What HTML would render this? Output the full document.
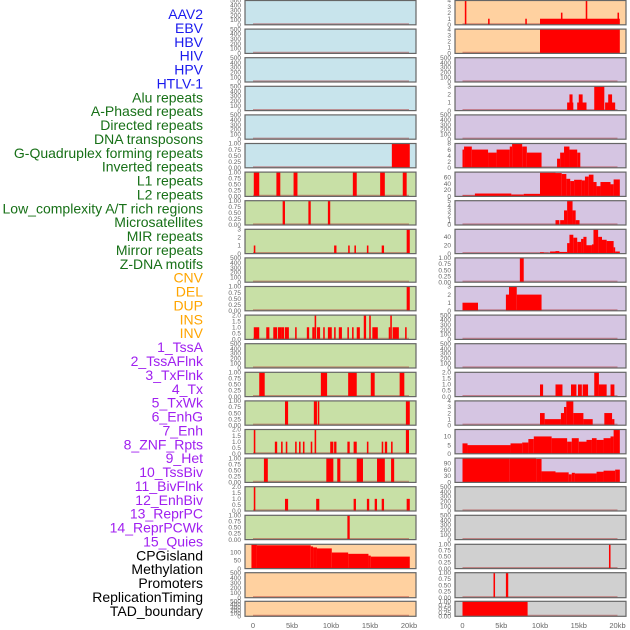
<!DOCTYPE html>
<html><head><meta charset="utf-8"><style>
html,body{margin:0;padding:0;background:#fff;}
svg{display:block;font-family:"Liberation Sans",sans-serif;}
</style></head><body>
<svg id="chart" width="630" height="630" viewBox="0 0 630 630" xmlns="http://www.w3.org/2000/svg">
<g id="labels"></g>
<g id="panels"></g>
<g id="xaxes"></g>
</svg>
<script>
const trackNames = ["AAV2","EBV","HBV","HIV","HPV","HTLV-1","Alu repeats","A-Phased repeats","Directed repeats","DNA transposons","G-Quadruplex forming repeats","Inverted repeats","L1 repeats","L2 repeats","Low_complexity A/T rich regions","Microsatellites","MIR repeats","Mirror repeats","Z-DNA motifs","CNV","DEL","DUP","INS","INV","1_TssA","2_TssAFlnk","3_TxFlnk","4_Tx","5_TxWk","6_EnhG","7_Enh","8_ZNF_Rpts","9_Het","10_TssBiv","11_BivFlnk","12_EnhBiv","13_ReprPC","14_ReprPCWk","15_Quies","CPGisland","Methylation","Promoters","ReplicationTiming","TAD_boundary"];
const trackGroups = [6,13,5,15,5];
const groupColors = ["#1a1aee","#177017","#ffa500","#a020f0","#000000"];

const xTickValues = [0,5000,10000,15000,20000];
const xTickLabels = ["0","5kb","10kb","15kb","20kb"];

const T500 = ["0","100","200","300","400","500"];
const T1 = ["0.00","0.25","0.50","0.75","1.00"];
const T2 = ["0.0","0.5","1.0","1.5","2.0"];
const T3 = ["0","1","2","3"];
const T4 = ["0","1","2","3","4"];
const T5 = ["0","1","2","3","4","5"];
const T8 = ["0","2","4","6","8"];
const T60 = ["0","20","40","60"];
const T40 = ["0","20","40"];
const T10 = ["0","5","10"];
const T90 = ["0","30","60","90"];
const T100 = ["0","50","100"];

// bars: [startKb, endKb, value]
const L06 = [[17.8,20.1,1]];
const L07 = [[0.1,0.8,1],[3.0,3.5,1],[5.2,5.7,1],[12.8,13.3,1],[16.3,16.9,1],[19.2,19.7,1]];
const L08 = [[3.8,4.1,1],[7.1,7.4,1],[9.6,9.9,1]];
const L09 = [[0.1,0.3,1],[10.4,10.7,1],[12.2,12.4,1],[13.0,13.2,1],[14.6,14.8,1],[16.5,16.8,1],[19.7,20.1,3]];
const L11 = [[19.7,20.1,1]];
const L12 = [[0.1,0.8,1],[1.7,2.1,1],[2.6,3.1,1],[3.2,3.6,1],[3.6,4.0,1],[4.1,4.6,1],[5.4,5.6,1],[6.9,7.2,1],[7.6,7.9,1],[7.9,8.1,2],[8.2,8.6,1],[9.0,9.2,1],[9.6,10.1,1],[10.4,10.6,1],[11.0,11.4,1],[12.1,12.3,1],[12.7,12.9,1],[13.3,13.7,1],[14.2,14.5,2],[14.9,15.1,2],[15.3,16.0,1],[17.4,17.6,1],[17.6,17.8,2],[17.9,18.7,1],[19.5,19.7,1]];
const L14 = [[0.8,1.5,1],[8.7,9.5,1],[12.2,13.3,1],[15.1,15.6,1],[18.8,19.4,1]];
const L15 = [[4.1,4.5,1],[7.8,8.2,1],[8.3,8.5,1],[19.6,20.1,1]];
const L16 = [[0.1,0.3,2],[2.8,3.1,1],[3.6,3.8,1],[4.2,4.4,1],[5.4,5.6,1],[5.9,6.1,1],[6.4,6.6,1],[7.4,7.6,1],[7.9,8.1,2],[9.9,10.3,1],[10.4,10.7,1],[12.1,12.4,1],[12.9,13.3,1],[14.6,14.8,1],[16.5,16.7,1],[16.9,17.2,1],[17.7,17.9,1],[19.6,20.0,2]];
const L17 = [[1.4,1.9,1],[9.4,10.3,1],[10.8,11.2,1],[13.3,14.1,1],[15.9,16.9,1],[17.7,18.1,1]];
const L18 = [[0.1,0.3,2],[4.1,4.5,1],[8.1,8.5,1],[12.9,13.2,1],[14.6,14.9,1],[15.6,15.9,1],[16.5,16.8,1],[19.7,20.1,1]];
const L19 = [[12.1,12.4,1]];
const L20 = [[-0.2,0.5,146],[0.5,7.4,142],[7.4,7.7,135],[7.7,8.2,129],[8.2,10.1,123],[10.1,12.2,98],[12.2,14.8,90],[14.8,15.1,79],[15.1,20.1,73]];

const R01 = [[0.3,0.5,4],[3.3,3.5,1],[8.1,8.3,1],[10,20.3,1],[12.7,12.9,2],[15.9,16.1,4],[20.0,20.2,2]];
const R02 = [[10,20.3,4]];
const R04 = [[13.5,14.3,1],[13.8,14.2,2],[14.8,16.0,1],[15.0,15.5,2],[17.0,18.3,3],[18.4,19.7,1],[18.8,19.3,2]];
const R06 = [[0,0.2,6],[0.2,1.2,7],[1.2,3.3,6],[3.3,4.4,5],[4.4,6.1,6],[6.1,6.4,7],[6.4,7.7,8],[7.7,8.3,7],[8.3,10.2,5],[12.2,12.6,3],[12.6,13.1,5],[13.1,13.8,7],[13.8,14.8,6],[14.8,15.2,5]];
const R07 = [[0,1.6,3],[1.6,6.3,9],[6.3,7.9,6],[7.9,10,8],[10,12,74],[12,12.8,73],[12.8,13.4,70],[13.4,13.9,55],[13.9,14.4,48],[14.4,15.4,52],[15.4,15.8,50],[15.8,16.3,62],[16.3,16.9,68],[16.9,17.3,45],[17.3,17.8,32],[17.8,19.1,45],[19.1,19.5,38],[19.5,20.3,53]];
const R08 = [[12,12.5,1],[12.6,13.1,1],[13.1,13.5,3],[13.5,14.2,5],[14.2,14.6,3],[14.6,15.1,1]];
const R09 = [[1.0,2.5,1],[3.6,4.3,1],[10.0,10.5,3],[10.5,11.1,2],[11.3,12.0,5],[12.0,12.5,6],[12.5,13.5,4],[13.5,13.8,25],[13.8,14.3,45],[14.3,14.8,38],[14.8,15.3,28],[15.3,15.6,35],[15.6,16.0,40],[16.0,16.7,20],[16.7,16.9,22],[16.9,17.5,57],[17.5,18.0,40],[18.0,18.6,33],[18.6,19.5,30],[19.5,19.7,15],[19.7,20.3,5]];
const R10 = [[7.4,7.9,1]];
const R11 = [[0,2,1],[5.6,6.0,2],[6.0,7.0,3],[7.0,10.2,2]];
const R14 = [[10,10.4,1],[12,12.9,1],[14,14.7,1],[14.9,15.4,1],[15.5,16.2,1],[17,17.6,2],[17.6,18.6,1],[19.1,19.6,1]];
const R15 = [[10,10.6,2],[10.6,12.7,1],[12.7,13.1,2],[13.1,13.4,3],[13.4,14.3,4],[14.3,15.6,2],[15.6,16.8,1],[18.3,19.3,2],[19.3,19.6,1]];
const R16 = [[0,0.65,6],[0.65,6.2,5],[6.2,7.7,6],[7.7,8.5,6.5],[8.5,9.2,8.5],[9.2,11.5,10],[11.5,13.5,9],[13.5,14.1,7],[14.1,15,9],[15,16,7],[16,16.7,8],[16.7,17.3,9],[17.3,18.2,8],[18.2,19.1,9],[19.1,19.5,10],[19.5,20.3,14]];
const R17 = [[0,6.1,114],[6.1,9.5,113],[9.5,10.2,110],[10.2,12,52],[12,13.7,47],[13.7,14.1,38],[14.1,14.5,45],[14.5,17.3,42],[17.3,18.2,50],[18.2,19.7,55],[19.7,20.3,60]];
const R20 = [[18.9,19.1,1]];
const R21 = [[4.0,4.2,1],[5.6,5.9,1]];
const R22 = [[0,8.4,1]];

const BLUE="#c8e4ec", GREEN="#c8e0a6", ORANGE="#ffd1a0", PURPLE="#d5c5e2", GRAY="#d0d0d0";
// [bars, tickLabels, tickMax, ymax, bg]
const leftCol = [
 [[],T500,500,500,BLUE],[[],T500,500,500,BLUE],[[],T500,500,500,BLUE],[[],T500,500,500,BLUE],[[],T500,500,500,BLUE],
 [L06,T1,1,1,BLUE],[L07,T1,1,1,GREEN],[L08,T1,1,1,GREEN],[L09,T3,3,3,GREEN],[[],T500,500,500,GREEN],
 [L11,T1,1,1,GREEN],[L12,T2,2,2,GREEN],[[],T500,500,500,GREEN],[L14,T1,1,1,GREEN],[L15,T1,1,1,GREEN],
 [L16,T2,2,2,GREEN],[L17,T1,1,1,GREEN],[L18,T2,2,2,GREEN],[L19,T1,1,1,GREEN],[L20,T100,100,148,ORANGE],
 [[],T500,500,500,ORANGE],[[],T500,500,500,ORANGE]];
const rightCol = [
 [R01,T4,4,4,ORANGE],[R02,T4,4,4,ORANGE],[[],T500,500,500,PURPLE],[R04,T3,3,3,PURPLE],[[],T500,500,500,PURPLE],
 [R06,T8,8,8,PURPLE],[R07,T60,60,76,PURPLE],[R08,T5,5,5,PURPLE],[R09,T40,40,58,PURPLE],[R10,T1,1,1,PURPLE],
 [R11,T3,3,3,PURPLE],[[],T500,500,500,PURPLE],[[],T500,500,500,PURPLE],[R14,T2,2,2,PURPLE],[R15,T4,4,4,PURPLE],
 [R16,T10,10,14,PURPLE],[R17,T90,90,114,PURPLE],[[],T500,500,500,GRAY],[[],T500,500,500,GRAY],[R20,T1,1,1,GRAY],
 [R21,T1,1,1,GRAY],[R22,T1,1,1,GRAY]];

const NS="http://www.w3.org/2000/svg";
function mk(tag, attrs, parent){const e=document.createElementNS(NS,tag);for(const k in attrs)e.setAttribute(k,attrs[k]);parent.appendChild(e);return e;}
function rowGeom(i){
  if(i<19) return [0.5+28.6*i, 24.3];
  if(i===19) return [544.3,24.3];
  if(i===20) return [572.7,25];
  return [601.3,15];
}
const cols=[{x0:245,x1:416,zero:253,pxkb:7.8,tickX:241,data:leftCol},{x0:455,x1:626,zero:462.5,pxkb:7.75,tickX:451,data:rightCol}];

// labels
const lg=document.getElementById('labels');
let idx=0;
trackGroups.forEach((n,g)=>{for(let k=0;k<n;k++){
  const t=mk('text',{x:203,y:14+idx*13.88+5,'text-anchor':'end','font-size':'14',fill:groupColors[g]},lg);
  t.textContent=trackNames[idx];
  
  
  idx++;}});

const pg=document.getElementById('panels');
cols.forEach((c,ci)=>{
  const xs=kb=>c.zero+kb*c.pxkb;
  c.data.forEach((p,ri)=>{
    const [bars,ticks,tmax,ymax,bg]=p;
    const [top,h]=rowGeom(ri);
    const bottom=top+h;
    const ys=v=>bottom-v/ymax*h;
    const g=mk('g',{},pg);
    
    
    mk('rect',{x:c.x0,y:top,width:c.x1-c.x0,height:h,fill:bg},g);
    mk('line',{x1:xs(0),x2:xs(20),y1:bottom-0.8,y2:bottom-0.8,stroke:'rgba(170,40,40,0.45)','stroke-width':1.6},g);
    bars.forEach(b=>{
      const r=mk('rect',{x:xs(b[0]),y:ys(b[2]),width:Math.max(1,xs(b[1])-xs(b[0])),height:bottom-ys(b[2]),fill:'#ff0000'},g);
      
      
    });
    mk('rect',{x:c.x0,y:top,width:c.x1-c.x0,height:h,fill:'none',stroke:'#666','stroke-width':1.2},g);
    const n=ticks.length;
    ticks.forEach((lab,k)=>{
      const v=tmax*k/(n-1);
      const t=mk('text',{x:c.tickX,y:ys(v)+2.2,'text-anchor':'end','font-size':'6.5',fill:'#666'},g);
      t.textContent=lab;
      
      
    });
  });
  const xa=document.getElementById('xaxes');
  xTickValues.forEach((v,k)=>{
    const t=mk('text',{x:xs(v/1000),y:628,'text-anchor':'middle','font-size':'7.5',fill:'#666'},xa);
    t.textContent=xTickLabels[k];
    
    
  });
});
</script>
</body></html>
